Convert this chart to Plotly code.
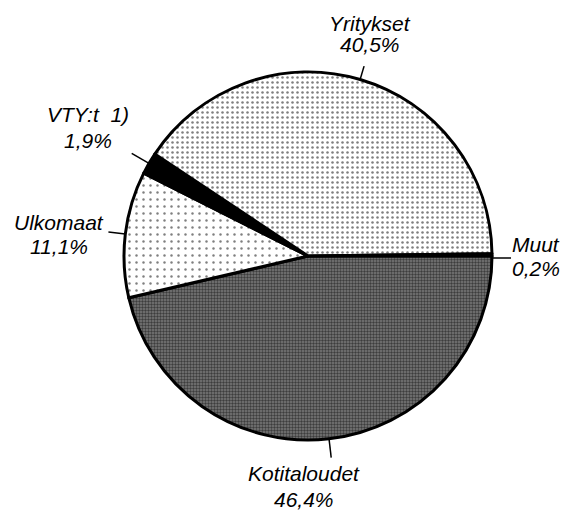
import math
import plotly.graph_objects as go

# ---- data ----
labels = ["Kotitaloudet", "Ulkomaat", "VTY:t  1)", "Yritykset", "Muut"]
values = [46.4, 11.1, 1.9, 40.5, 0.2]
value_text = ["46,4%", "11,1%", "1,9%", "40,5%", "0,2%"]

W, H = 568, 511
CX, CY, R = 308, 256, 184

fg = ["#000000", "#000000", "#000000", "#000000", "#000000"]
bg = ["#7a7a7a", "#ffffff", "#000000", "#ffffff", "#000000"]
shapes_p = [".", ".", "", ".", ""]
sizes = [3, 7, 4, 5, 4]
solid = [0.5, 0.1, 0.3, 0.2, 0.3]

fig = go.Figure(go.Pie(
    labels=labels, values=values, sort=False, direction="clockwise", rotation=90,
    textinfo="none", hoverinfo="label+percent", showlegend=False,
    marker=dict(
        colors=bg,
        line=dict(color="black", width=3),
        pattern=dict(shape=shapes_p, fgcolor=fg, bgcolor=bg, size=sizes, solidity=solid, fillmode="overlay"),
    ),
    domain=dict(x=[(CX - R) / W, (CX + R) / W], y=[1 - (CY + R) / H, 1 - (CY - R) / H]),
))

# leader lines and labels, positioned from slice midpoints
total = sum(values)
label_pos = {  # (x, y_name, y_value, anchor)
    "Kotitaloudet": (304, 473, 499, "center"),
    "Ulkomaat": (59, 222, 246, "center"),
    "VTY:t  1)": (88, 114, 140, "center"),
    "Yritykset": (370, 23, 45, "center"),
    "Muut": (510, 245, 268, "left"),
}
lead = {"Kotitaloudet": 19, "Ulkomaat": 17, "VTY:t  1)": 20, "Yritykset": 14, "Muut": 19}
shapes = []
annotations = []
cum = 0.0
for lab, v, vt in zip(labels, values, value_text):
    mid = cum + v / 2
    cum += v
    ang = math.radians(-mid / total * 360.0)  # clockwise from 3 o'clock
    x0 = CX + R * math.cos(ang)
    y0 = CY - R * math.sin(ang)
    L = lead[lab]
    x1 = CX + (R + L) * math.cos(ang)
    y1 = CY - (R + L) * math.sin(ang)
    if lab == "Muut":
        y0 = y1 = CY + 2
    shapes.append(dict(type="line", xref="paper", yref="paper",
                       x0=x0 / W, y0=1 - y0 / H, x1=x1 / W, y1=1 - y1 / H,
                       line=dict(color="black", width=1.5)))
    xc, yn, yv, anc = label_pos[lab]
    font = dict(family="Liberation Sans, Arial, sans-serif", size=21, color="black", style="italic")
    annotations.append(dict(text=lab, x=xc / W, y=1 - yn / H, xref="paper", yref="paper",
                            showarrow=False, xanchor=anc, yanchor="middle", font=font))
    annotations.append(dict(text=vt, x=xc / W, y=1 - yv / H,
                            xref="paper", yref="paper",
                            showarrow=False, xanchor=anc, yanchor="middle", font=font))

fig.update_layout(
    width=W, height=H, margin=dict(l=0, r=0, t=0, b=0),
    paper_bgcolor="white", plot_bgcolor="white",
    shapes=shapes, annotations=annotations,
)
fig.write_html("out.html", config={"displayModeBar": False},
               post_script="document.body.style.margin='0';document.body.style.overflow='hidden';")
